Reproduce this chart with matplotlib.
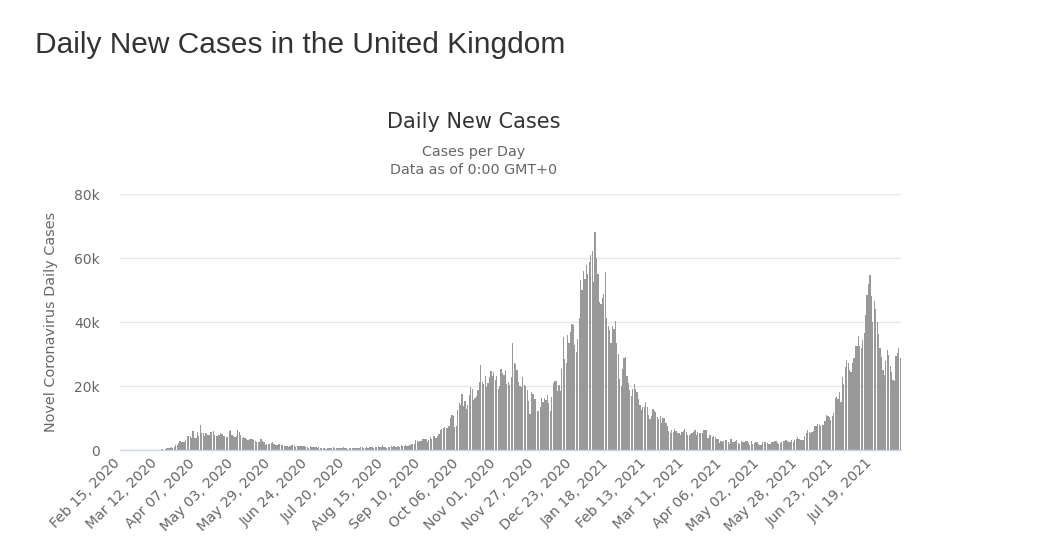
import matplotlib
matplotlib.use("Agg")
import matplotlib.pyplot as plt
import matplotlib.transforms as mtransforms
import numpy as np

# ---------------- data (daily new cases, Feb 15 2020 -> Aug 07 2021) ----------------
feb_2020 = [0, 0, 0, 0, 0, 0, 0, 0, 0, 4, 0, 0, 2, 5, 3]
mar_2020 = [13, 4, 11, 34, 30, 48, 43, 67, 48, 52, 83, 134, 117, 342, 251, 152, 407, 676,
            643, 714, 1035, 665, 967, 1427, 1452, 2129, 2885, 2546, 2433, 2619, 3009]
apr_2020 = [4324, 4244, 4450, 3735, 5903, 3802, 3634, 5491, 4344, 7800, 5233, 5288, 4342,
            5252, 4603, 4617, 5599, 5525, 5850, 4676, 4301, 4451, 4583, 5386, 4913, 4463,
            4309, 3996, 4076, 6032]
may_2020 = [6201, 4806, 4339, 3985, 4406, 6111, 5614, 4649, 3896, 3923, 3877, 3403, 3242,
            3446, 3560, 3450, 3142, 2684, 2412, 2472, 2615, 3287, 2959, 2405, 1625, 2004,
            2013, 1887, 2095, 2445, 1936]
jun_2020 = [1570, 1613, 1871, 1805, 1650, 1557, 1326, 1205, 1387, 1003, 1266, 1541, 1425,
            1514, 1056, 1279, 1115, 1218, 1346, 1295, 1221, 958, 874, 653, 1118, 1006, 890,
            901, 815, 689]
jul_2020 = [829, 576, 544, 624, 516, 352, 581, 630, 512, 642, 820, 650, 530, 598, 538, 642,
            687, 827, 726, 580, 445, 560, 769, 767, 743, 747, 685, 581, 763, 846, 880]
aug_2020 = [744, 743, 938, 670, 892, 950, 871, 758, 1062, 816, 1148, 1009, 1063, 1441, 1012,
            1040, 713, 1089, 812, 1182, 1033, 1288, 1041, 853, 1184, 1048, 1522, 1276, 1108,
            1715, 1406]
sep_2020 = [1295, 1508, 1735, 1940, 1813, 2988, 2948, 2460, 2659, 2919, 3539, 3497, 3330,
            2621, 3105, 3991, 3395, 4322, 4422, 3899, 4368, 4926, 6200, 6600, 6900, 7100,
            7000, 6900, 7500, 10100]
oct_2020 = [10900, 10500, 7100, 7600, 12594, 14542, 14162, 17540, 13864, 15166, 12872, 13972,
            17234, 19724, 18980, 15650, 16171, 16982, 18804, 21331, 26688, 21242, 20530,
            23012, 19790, 20890, 22885, 24701, 23065, 24405, 21915]
nov_2020 = [23254, 18950, 20018, 25177, 24141, 23287, 24957, 20572, 21350, 20412, 22950,
            33470, 27301, 26860, 24962, 21363, 20051, 19609, 22915, 20252, 19875, 18662,
            15450, 11299, 18213, 17555, 16022, 15871, 12155, 12330]
dec_2020 = [13430, 16170, 14879, 16298, 15539, 17272, 14718, 12282, 16578, 20964, 21672,
            21502, 18447, 20263, 18450, 25161, 35383, 28507, 27052, 35928, 33364, 36804,
            39237, 39036, 32725, 30501, 34693, 41385, 53135, 50023, 55892]
jan_2021 = [53285, 57725, 54990, 58784, 60916, 62322, 52618, 68053, 59937, 54940, 46169,
            45533, 47525, 48682, 55761, 41346, 38598, 37535, 33355, 38905, 37892, 40261,
            33552, 30004, 22195, 20089, 25308, 28680, 29079, 23275, 21088]
feb_2021 = [18607, 16840, 19202, 20634, 19114, 18262, 15845, 14104, 12364, 13494, 13308,
            15144, 13308, 10972, 9765, 10625, 12718, 12057, 12027, 10406, 9834, 10641, 8489,
            9938, 9985, 8523, 7434, 6035]
mar_2021 = [5455, 6385, 5766, 6573, 6040, 5177, 5177, 4712, 5766, 5926, 6609, 5534, 4618,
            4618, 5089, 5294, 5758, 6303, 4802, 5587, 5312, 5342, 5379, 6397, 6187, 6187,
            3862, 4715, 4654, 4052, 4479]
apr_2021 = [4052, 3402, 3423, 2297, 2762, 2379, 2763, 3150, 3060, 2589, 1730, 3568, 2472,
            2491, 2672, 3030, 2206, 1882, 2963, 2524, 2396, 2729, 2678, 2061, 1712, 2685,
            1946, 2166, 2381, 2445]
may_2021 = [1907, 1671, 1649, 2357, 2613, 2490, 2047, 1770, 1946, 2357, 2474, 2657, 2896,
            2193, 1926, 2235, 2412, 2696, 2874, 3180, 2829, 2439, 2493, 3240, 2612, 3180,
            3542, 4182, 3398, 3240, 3165]
jun_2021 = [3165, 4330, 5274, 6238, 5765, 5341, 5683, 6048, 7540, 7393, 8125, 7738, 7490,
            7742, 7673, 9055, 11007, 10476, 10321, 9284, 10633, 11625, 16135, 16703, 15810,
            18270, 14876, 22868, 20479, 26068]
jul_2021 = [27989, 27125, 24885, 24248, 27334, 28773, 32548, 32551, 35707, 32367, 31772,
            34471, 36660, 42302, 48553, 51870, 54674, 48161, 39950, 46558, 44104, 39906,
            36389, 31795, 29173, 24950, 23511, 27734, 31117, 29622, 26144]
aug_2021 = [24470, 21952, 21691, 29312, 30215, 31808, 28612]

tick_labels = ["Feb 15, 2020", "Mar 12, 2020", "Apr 07, 2020", "May 03, 2020",
               "May 29, 2020", "Jun 24, 2020", "Jul 20, 2020", "Aug 15, 2020",
               "Sep 10, 2020", "Oct 06, 2020", "Nov 01, 2020", "Nov 27, 2020",
               "Dec 23, 2020", "Jan 18, 2021", "Feb 13, 2021", "Mar 11, 2021",
               "Apr 06, 2021", "May 02, 2021", "May 28, 2021", "Jun 23, 2021",
               "Jul 19, 2021"]
tick_step = 26
y_ticks = [0, 20000, 40000, 60000, 80000]
y_tick_labels = ["0", "20k", "40k", "60k", "80k"]

cases = np.array(feb_2020 + mar_2020 + apr_2020 + may_2020 + jun_2020 + jul_2020 +
                 aug_2020 + sep_2020 + oct_2020 + nov_2020 + dec_2020 + jan_2021 +
                 feb_2021 + mar_2021 + apr_2021 + may_2021 + jun_2021 + jul_2021 +
                 aug_2021)
days = np.arange(len(cases))

# ---------------- figure ----------------
W, H = 1054, 544
fig = plt.figure(figsize=(W / 100, H / 100), dpi=100)
fig.patch.set_facecolor("white")

ax = fig.add_axes([120 / W, 1 - 450 / H, 781 / W, 256 / H])
ax.bar(days, cases, width=0.85, color="#999999", linewidth=0, zorder=2)

ax.set_xlim(-0.5, len(cases) - 0.5)
ax.set_ylim(0, 80000)
ax.set_yticks(y_ticks)
ax.set_yticklabels(y_tick_labels)
ax.yaxis.grid(True, color="#e6e6e6", linewidth=1, zorder=0)
ax.set_axisbelow(True)

tick_pos = np.arange(len(tick_labels)) * tick_step
ax.set_xticks(tick_pos)
ax.set_xticklabels(tick_labels, rotation=45, ha="right", va="center",
                   rotation_mode="anchor")

for s in ["top", "right", "left"]:
    ax.spines[s].set_visible(False)
ax.spines["bottom"].set_color("#ccd6eb")
ax.spines["bottom"].set_linewidth(1)
ax.spines["bottom"].set_zorder(3)

ax.tick_params(axis="x", length=0, pad=8, labelsize=10.2, labelcolor="#666666")
ax.tick_params(axis="y", length=0, pad=14.5, labelsize=10, labelcolor="#666666")
for lab in ax.get_xticklabels() + ax.get_yticklabels():
    lab.set_family("DejaVu Sans")
shift = mtransforms.ScaledTranslation(-3 / 100, 0, fig.dpi_scale_trans)
for lab in ax.get_xticklabels():
    lab.set_transform(lab.get_transform() + shift)

ax.set_ylabel("Novel Coronavirus Daily Cases", fontsize=10.4, color="#666666",
              family="DejaVu Sans")
ax.yaxis.set_label_coords((58 - 120) / 781, 0.5)

fig.text(35 / W, 1 - 45 / H, "Daily New Cases in the United Kingdom",
         fontsize=21.5, color="#333333", va="center", ha="left",
         family="Liberation Sans")
fig.text(474 / W, 1 - 122 / H, "Daily New Cases", fontsize=15, color="#333333",
         va="center", ha="center", family="DejaVu Sans")
fig.text(474 / W, 1 - 152 / H, "Cases per Day", fontsize=10.3, color="#666666",
         va="center", ha="center", family="DejaVu Sans")
fig.text(474 / W, 1 - 170 / H, "Data as of 0:00 GMT+0", fontsize=10.3, color="#666666",
         va="center", ha="center", family="DejaVu Sans")

fig.savefig("out.png", dpi=100, facecolor="white")
